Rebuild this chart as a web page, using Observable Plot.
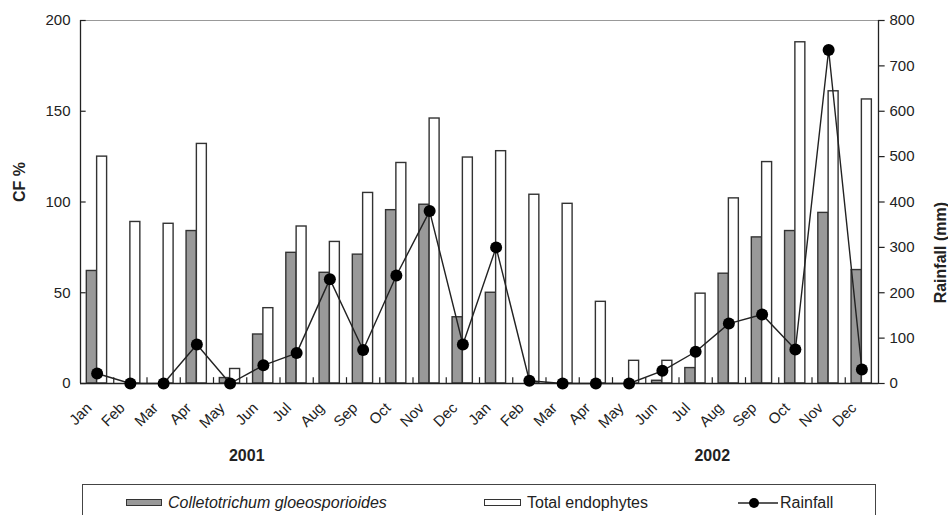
<!DOCTYPE html>
<html>
<head>
<meta charset="utf-8">
<script src="https://cdn.jsdelivr.net/npm/d3@7"></script>
<script src="https://cdn.jsdelivr.net/npm/@observablehq/plot@0.6"></script>
<style>
  html, body { margin: 0; padding: 0; background: #fff; }
  #wrap { position: relative; width: 948px; height: 515px; overflow: hidden; font-family: "Liberation Sans", Arial, sans-serif; color: #222; }
  #chart { position: absolute; left: 0; top: 0; }
  #legend { position: absolute; left: 82px; top: 484px; width: 794px; height: 60px; border: 1.5px solid #444; box-sizing: border-box; }
  .item { position: absolute; top: 8px; font-size: 16px; line-height: 20px; white-space: nowrap; }
  .sw { position: absolute; top: 14px; height: 7px; border: 1.4px solid #333; box-sizing: border-box; }
</style>
</head>
<body>
<div id="wrap">
  <div id="chart"></div>
  <div id="legend"></div>
</div>
<script>
const months = ["Jan","Feb","Mar","Apr","May","Jun","Jul","Aug","Sep","Oct","Nov","Dec",
                "Jan","Feb","Mar","Apr","May","Jun","Jul","Aug","Sep","Oct","Nov","Dec"];
const years = ["2001", "2002"];
const yearLabelAt = [5, 19]; // month boundary index under which each year label sits
const colletotrichum = [62, 0, 0, 84, 3, 27, 72, 61, 71, 95.5, 98.5, 36.5,
                        50, 0, 0, 0, 0, 1.5, 8.5, 60.5, 80.5, 84, 94, 62.5];
const totalEndophytes = [125, 89, 88, 132, 8, 41.5, 86.5, 78, 105, 121.5, 146, 124.5,
                         128, 104, 99, 45, 12.5, 12.5, 49.5, 102, 122, 188, 161, 156.5];
const rainfall = [22, 0, 0, 86, 0, 40, 67, 230, 74, 238, 380, 86,
                  300, 6, 0, 0, 0, 28, 70, 132, 152, 75, 735, 31];
const leftTicks = [0, 50, 100, 150, 200];
const rightTicks = [0, 100, 200, 300, 400, 500, 600, 700, 800];
const seriesNames = ["Colletotrichum gloeosporioides", "Total endophytes", "Rainfall"];

const idx = d3.range(months.length);
const rainScale = 200 / 800; // rainfall axis 0–800 mapped onto CF axis 0–200
const ink = "#222";

const chart = Plot.plot({
  width: 948,
  height: 480,
  marginLeft: 80,
  marginRight: 70,
  marginTop: 20,
  marginBottom: 97,
  x: { domain: [0, 24], axis: null },
  y: { domain: [0, 200], axis: null },
  style: { fontFamily: "'Liberation Sans', Arial, sans-serif", fontSize: "15px", color: ink, background: "#fff" },
  marks: [
    Plot.ruleY([200], { stroke: "#999", strokeWidth: 1.2 }),
    Plot.rectY(idx, { x1: i => i + 0.19, x2: i => i + 0.5, y1: 0, y2: i => colletotrichum[i], fill: "#999", stroke: "#333", strokeWidth: 1.4 }),
    Plot.rectY(idx, { x1: i => i + 0.5, x2: i => i + 0.8, y1: 0, y2: i => totalEndophytes[i], fill: "#fff", stroke: "#333", strokeWidth: 1.4 }),
    // axes lines and ticks
    Plot.ruleY([0], { stroke: ink, strokeWidth: 1.5 }),
    Plot.ruleX([0, 24], { y1: 0, y2: 200, stroke: ink, strokeWidth: 1.3 }),
    Plot.ruleX(d3.range(1, 24), { y1: 0, y2: 3.2, stroke: ink, strokeWidth: 1.2 }),
    Plot.ruleY(leftTicks, { x1: 0, x2: 0.17, stroke: ink, strokeWidth: 1.2 }),
    Plot.ruleY(rightTicks.map(d => d * rainScale), { x1: 24, x2: 24.2, stroke: ink, strokeWidth: 1.2 }),
    Plot.text(leftTicks, { x: 0, y: d => d, text: d => String(d), textAnchor: "end", dx: -10, fontSize: 15 }),
    Plot.text(rightTicks, { x: 24, y: d => d * rainScale, text: d => String(d), textAnchor: "start", dx: 11, fontSize: 15 }),
    // rainfall
    Plot.line(idx, { x: i => i + 0.5, y: i => rainfall[i] * rainScale, stroke: ink, strokeWidth: 1.4 }),
    Plot.dot(idx, { x: i => i + 0.5, y: i => rainfall[i] * rainScale, r: 6, fill: "#000", stroke: "none" }),
    // month labels
    Plot.text(idx, { x: i => i + 0.5, y: 0, text: i => months[i], rotate: -45, textAnchor: "end", dx: -8, dy: 22, fontSize: 15 }),
    // year labels
    Plot.text(years, { x: (d, i) => yearLabelAt[i], y: 0, text: d => d, dy: 72, fontWeight: "bold", fontSize: 16 }),
    // axis titles
    Plot.text(["CF %"], { frameAnchor: "left", rotate: -90, dx: -61, fontWeight: "bold", fontSize: 16 }),
    Plot.text(["Rainfall (mm)"], { frameAnchor: "right", rotate: -90, dx: 62, fontWeight: "bold", fontSize: 16 })
  ]
});
document.getElementById("chart").appendChild(chart);

// legend
const legend = document.getElementById("legend");
function add(html) { legend.insertAdjacentHTML("beforeend", html); }
add(`<div class="sw" style="left:43px;width:36px;background:#999"></div>`);
add(`<div class="item" style="left:85px;font-style:italic">${seriesNames[0]}</div>`);
add(`<div class="sw" style="left:401px;width:37px;background:#fff"></div>`);
add(`<div class="item" style="left:444px">${seriesNames[1]}</div>`);
add(`<svg style="position:absolute;left:653px;top:10px" width="44" height="16"><line x1="2" x2="42" y1="8" y2="8" stroke="#222" stroke-width="1.5"/><circle cx="18" cy="8" r="5" fill="#000"/></svg>`);
add(`<div class="item" style="left:697px">${seriesNames[2]}</div>`);
</script>
</body>
</html>
